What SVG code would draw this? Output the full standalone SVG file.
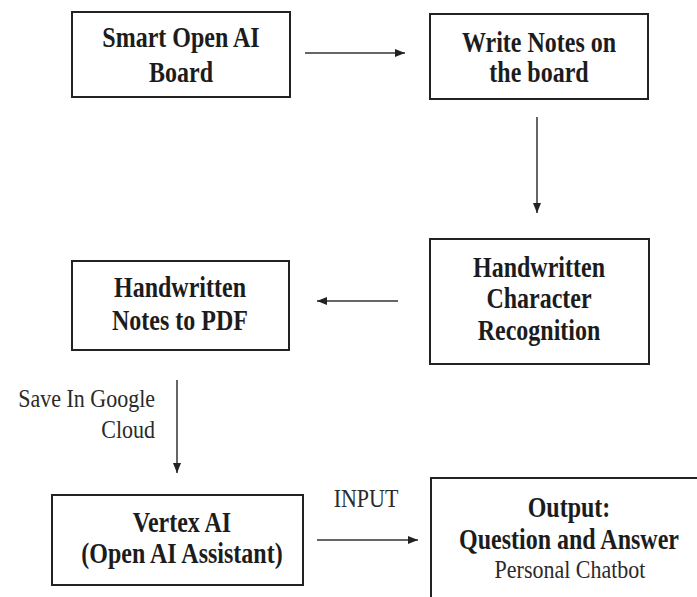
<svg xmlns="http://www.w3.org/2000/svg" width="697" height="597" viewBox="0 0 697 597">
<style>
.box{fill:#fff;stroke:#222;stroke-width:2}
.b{font-family:"Liberation Serif",serif;font-weight:bold;font-size:24px;fill:#1c1c1c;text-anchor:middle}
.r{font-family:"Liberation Serif",serif;font-size:22px;fill:#2a2a2a}
.c{stroke:#333;stroke-width:1.5;fill:none}
</style>
<defs>
<marker id="ah" viewBox="0 0 10 10" refX="10" refY="5" markerWidth="10" markerHeight="10" markerUnits="userSpaceOnUse" orient="auto">
<path d="M0,1 L10,5 L0,9 z" fill="#222"/>
</marker>
</defs>
<rect width="697" height="597" fill="#fff"/>
<g id="n1"><rect class="box" x="72" y="12" width="218" height="85"/>
<text class="b" transform="translate(181,47) scale(1,1.2)">Smart Open AI</text><text class="b" transform="translate(181,82) scale(1,1.2)">Board</text></g>
<g id="n2"><rect class="box" x="430" y="14" width="218" height="85"/>
<text class="b" transform="translate(539,52) scale(1,1.2)">Write Notes on</text><text class="b" transform="translate(539,82) scale(1,1.2)">the board</text></g>
<g id="n3"><rect class="box" x="430" y="239" width="219" height="125"/>
<text class="b" transform="translate(539,277) scale(1,1.2)">Handwritten</text><text class="b" transform="translate(539,308) scale(1,1.2)">Character</text><text class="b" transform="translate(539,340) scale(1,1.2)">Recognition</text></g>
<g id="n4"><rect class="box" x="72" y="261" width="217" height="89"/>
<text class="b" transform="translate(180,297) scale(1,1.2)">Handwritten</text><text class="b" transform="translate(180,330) scale(1,1.2)">Notes to PDF</text></g>
<g id="n5"><rect class="box" x="52" y="495" width="251" height="90"/>
<text class="b" transform="translate(182,532) scale(1,1.2)">Vertex AI</text><text class="b" transform="translate(182,563) scale(1,1.2)">(Open AI Assistant)</text></g>
<g id="n6"><rect class="box" x="431" y="478" width="280" height="130"/>
<text class="b" transform="translate(569,517) scale(1,1.2)">Output:</text><text class="b" transform="translate(569,549) scale(1,1.2)">Question and Answer</text>
<text class="r" text-anchor="middle" transform="translate(570,578) scale(1,1.15)">Personal Chatbot</text></g>
<g id="connectors">
<line class="c" x1="305" y1="53" x2="405" y2="53" marker-end="url(#ah)"/>
<line class="c" x1="537" y1="117" x2="537" y2="213" marker-end="url(#ah)"/>
<line class="c" x1="398" y1="301" x2="317" y2="301" marker-end="url(#ah)"/>
<line class="c" x1="177" y1="380" x2="177" y2="473" marker-end="url(#ah)"/>
<line class="c" x1="317" y1="540" x2="418" y2="540" marker-end="url(#ah)"/>
<text class="r" text-anchor="end" transform="translate(155,407) scale(1,1.15)">Save In Google</text>
<text class="r" text-anchor="end" transform="translate(155,438) scale(1,1.15)">Cloud</text>
<text class="r" text-anchor="middle" transform="translate(366,507) scale(1,1.15)">INPUT</text>
</g>
</svg>
